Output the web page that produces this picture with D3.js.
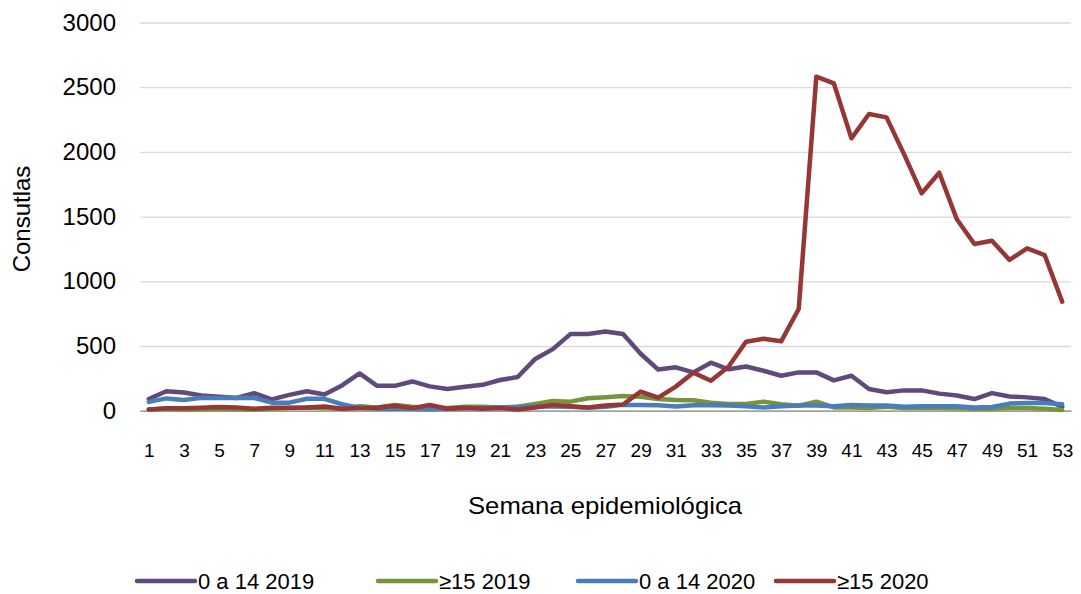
<!DOCTYPE html>
<html>
<head>
<meta charset="utf-8">
<script src="https://cdn.jsdelivr.net/npm/d3@7"></script>
<style>
  body { margin: 0; background: #ffffff; }
  text { font-family: "Liberation Sans", Arial, sans-serif; fill: #000000; }
</style>
</head>
<body>
<div id="chart"></div>
<script>
// semana epidemiológica
var weeks = [1, 2, 3, 4, 5, 6, 7, 8, 9, 10, 11, 12, 13, 14, 15, 16, 17, 18, 19, 20,
    21, 22, 23, 24, 25, 26, 27, 28, 29, 30, 31, 32, 33, 34, 35, 36, 37, 38, 39, 40,
    41, 42, 43, 44, 45, 46, 47, 48, 49, 50, 51, 52, 53];

var xTicks = [1, 3, 5, 7, 9, 11, 13, 15, 17, 19, 21, 23, 25, 27, 29, 31, 33, 35, 37, 39, 41, 43, 45, 47, 49, 51, 53];
var yTicks = [0, 500, 1000, 1500, 2000, 2500, 3000];

// 0 a 14 2019
var kids2019 = [90, 150, 140, 118, 108, 98, 135, 88, 122, 150, 125, 195, 288, 192, 192, 226, 188, 168, 185, 200,
    237, 260, 400, 476, 592, 592, 612, 592, 440, 318, 335, 296, 371, 320, 342, 309, 270, 296, 296, 234,
    270, 168, 142, 157, 157, 132, 118, 90, 136, 110, 103, 90, 30];

// >=15 2019
var adults2019 = [10, 15, 10, 10, 15, 10, 10, 15, 20, 25, 20, 15, 35, 25, 45, 30, 20, 20, 30, 30,
    25, 30, 52, 75, 70, 96, 104, 114, 108, 90, 83, 80, 62, 52, 52, 70, 50, 38, 70, 25,
    25, 20, 30, 20, 20, 20, 18, 15, 15, 20, 20, 15, 5];

// 0 a 14 2020
var kids2020 = [68, 95, 82, 100, 98, 100, 98, 62, 62, 92, 92, 50, 22, 15, 15, 15, 12, 15, 18, 20,
    25, 28, 32, 32, 30, 22, 30, 45, 45, 42, 32, 42, 42, 40, 35, 25, 35, 40, 40, 35,
    45, 40, 40, 30, 35, 35, 35, 25, 28, 55, 60, 60, 50];

// >=15 2020
var adults2020 = [10, 18, 18, 22, 28, 25, 15, 22, 22, 25, 33, 15, 20, 22, 38, 20, 44, 15, 22, 15,
    20, 10, 25, 45, 35, 25, 40, 48, 147, 101, 186, 294, 232, 340, 533, 556, 536, 786, 2581, 2530,
    2105, 2293, 2267, 1981, 1680, 1839, 1479, 1288, 1314, 1165, 1255, 1203, 842];

var seriesNames = ["0 a 14 2019", "\u226515 2019", "0 a 14 2020", "\u226515 2020"];
var seriesColors = ["#604a7b", "#77933c", "#4a7ebb", "#953735"];

function init() {
    var width = 1081, height = 594;
    var plot = { left: 140, right: 1071, top: 22.5, bottom: 410.7 };

    var svg = d3.select("#chart")
        .append("svg")
        .attr("width", width)
        .attr("height", height);

    var xScale = d3.scalePoint()
        .domain(weeks)
        .range([plot.left, plot.right])
        .padding(0.5);

    var yScale = d3.scaleLinear()
        .domain([0, 3000])
        .range([plot.bottom, plot.top]);

    // gridlines + y labels
    var yAxis = d3.axisLeft(yScale)
        .tickValues(yTicks)
        .tickFormat(d3.format("d"))
        .tickSize(-(plot.right - plot.left))
        .tickPadding(24);

    var gy = svg.append("g")
        .attr("transform", "translate(" + plot.left + ",0)")
        .call(yAxis);
    gy.select(".domain").remove();
    gy.selectAll(".tick line").attr("stroke", "#d9d9d9").attr("stroke-width", 1.3);
    gy.selectAll(".tick text")
        .style("font-size", "24px");

    // x axis
    var xAxis = d3.axisBottom(xScale)
        .tickValues(xTicks)
        .tickSize(0)
        .tickSizeOuter(0)
        .tickPadding(33);

    var gx = svg.append("g")
        .attr("transform", "translate(0," + plot.bottom + ")")
        .call(xAxis);
    gx.select(".domain").attr("stroke", "#898989").attr("stroke-width", 1.3);
    gx.selectAll(".tick text")
        .style("font-size", "19px");

    // lines
    var allSeries = [kids2019, adults2019, kids2020, adults2020];
    var line = d3.line()
        .x(function(d, i) { return xScale(weeks[i]); })
        .y(function(d) { return yScale(d); });

    svg.selectAll("path.series")
        .data(allSeries)
        .enter()
        .append("path")
        .attr("class", "series")
        .attr("fill", "none")
        .attr("stroke", function(d, i) { return seriesColors[i]; })
        .attr("stroke-width", 4.5)
        .attr("stroke-linejoin", "round")
        .attr("stroke-linecap", "round")
        .attr("d", line);

    // axis titles
    svg.append("text")
        .attr("transform", "translate(30,219) rotate(-90)")
        .attr("text-anchor", "middle")
        .style("font-size", "24px")
        .text("Consutlas");

    svg.append("text")
        .attr("x", 605)
        .attr("y", 514)
        .attr("text-anchor", "middle")
        .attr("textLength", 274)
        .attr("lengthAdjust", "spacingAndGlyphs")
        .style("font-size", "24px")
        .text("Semana epidemiológica");

    // legend
    var legendX = [137, 378, 578, 776];
    var legend = svg.selectAll("g.legend")
        .data(seriesNames)
        .enter()
        .append("g")
        .attr("class", "legend")
        .attr("transform", function(d, i) { return "translate(" + legendX[i] + ",581)"; });

    legend.append("line")
        .attr("x1", 0)
        .attr("x2", 58)
        .attr("stroke", function(d, i) { return seriesColors[i]; })
        .attr("stroke-width", 4.5)
        .attr("stroke-linecap", "round");

    legend.append("text")
        .attr("x", 61)
        .attr("dy", "0.36em")
        .style("font-size", "22px")
        .text(function(d) { return d; });
}

window.addEventListener("load", init);
</script>
</body>
</html>
